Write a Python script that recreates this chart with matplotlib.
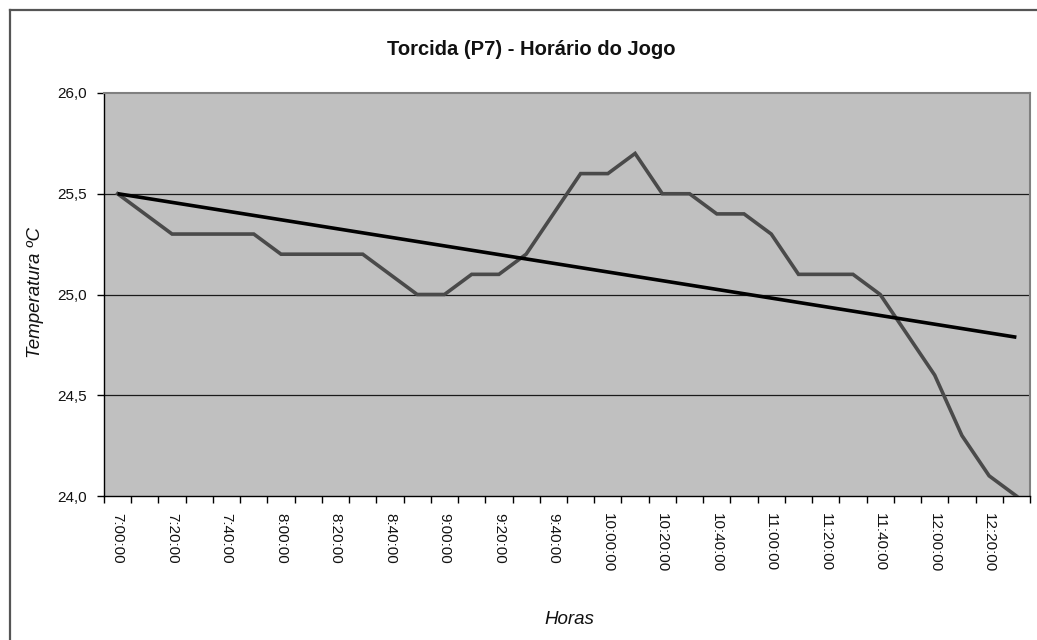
import numpy as np
import matplotlib
matplotlib.use("Agg")
import matplotlib.pyplot as plt
from matplotlib.lines import Line2D

plt.rcParams['font.family'] = ['Liberation Sans', 'DejaVu Sans']

# --- data ---
times = ["7:00:00", "7:10:00", "7:20:00", "7:30:00", "7:40:00", "7:50:00",
         "8:00:00", "8:10:00", "8:20:00", "8:30:00", "8:40:00", "8:50:00",
         "9:00:00", "9:10:00", "9:20:00", "9:30:00", "9:40:00", "9:50:00",
         "10:00:00", "10:10:00", "10:20:00", "10:30:00", "10:40:00", "10:50:00",
         "11:00:00", "11:10:00", "11:20:00", "11:30:00", "11:40:00", "11:50:00",
         "12:00:00", "12:10:00", "12:20:00", "12:30:00"]
temperatura = [25.5, 25.4, 25.3, 25.3, 25.3, 25.3,
               25.2, 25.2, 25.2, 25.2, 25.1, 25.0,
               25.0, 25.1, 25.1, 25.2, 25.4, 25.6,
               25.6, 25.7, 25.5, 25.5, 25.4, 25.4,
               25.3, 25.1, 25.1, 25.1, 25.0, 24.8,
               24.6, 24.3, 24.1, 24.0]
y_ticks = [24.0, 24.5, 25.0, 25.5, 26.0]

title = "Torcida (P7) - Horário do Jogo"
xlabel = "Horas"
ylabel = "Temperatura ºC"

# --- figure ---
W, H = 1037, 640
fig = plt.figure(figsize=(W / 100, H / 100), dpi=100)
fig.patch.set_facecolor("white")

# outer chart border (left and top visible)
fig.add_artist(Line2D([10 / W, 10 / W], [0, 1 - 10 / H], transform=fig.transFigure,
                      color="#555555", lw=1.6))
fig.add_artist(Line2D([10 / W, 1.0], [1 - 10 / H, 1 - 10 / H], transform=fig.transFigure,
                      color="#555555", lw=1.6))

left, right, top, bottom = 104, 1030, 93, 496
ax = fig.add_axes([left / W, 1 - bottom / H, (right - left) / W, (bottom - top) / H])
ax.set_facecolor("#C0C0C0")

x = np.arange(len(times))
y = np.array(temperatura)

# gridlines
for v in y_ticks[1:-1]:
    ax.axhline(v, color="#1a1a1a", lw=0.9, zorder=1)

ax.plot(x, y, color="#4a4a4a", lw=2.6, zorder=3, solid_joinstyle="miter")

# linear trendline
coef = np.polyfit(x, y, 1)
ax.plot(x, np.polyval(coef, x), color="black", lw=2.6, zorder=4, solid_capstyle="butt")

ax.set_xlim(-0.5, len(times) - 0.5)
ax.set_ylim(24.0, 26.0)

ax.set_yticks(y_ticks)
ax.set_yticklabels([f"{v:.1f}".replace(".", ",") for v in y_ticks], fontsize=11, color="#111111")
ax.tick_params(axis="y", direction="out", length=5, width=1, pad=7, color="black")

major = x[::2]
ax.set_xticks(major)
ax.set_xticklabels([times[i] for i in major], rotation=270, fontsize=11,
                   color="#111111", va="top", ha="center")
ax.set_xticks(np.arange(-0.5, len(times)), minor=True)
ax.tick_params(axis="x", which="major", length=0, pad=12)
ax.tick_params(axis="x", which="minor", direction="out", length=5, width=1, color="black")

for s in ["left", "bottom"]:
    ax.spines[s].set_color("black")
    ax.spines[s].set_linewidth(1.0)
for s in ["top", "right"]:
    ax.spines[s].set_color("#808080")
    ax.spines[s].set_linewidth(1.5)

fig.text(531 / W, 1 - 55 / H, title, ha="center", va="baseline", fontsize=14.5,
         fontweight="bold", color="#111111")
fig.text(569 / W, 1 - 620 / H, xlabel, ha="center", va="center", fontsize=13.5,
         style="italic", color="#111111")
fig.text(35 / W, 1 - 292 / H, ylabel, ha="center", va="center", fontsize=13.5,
         style="italic", rotation=90, color="#111111")

fig.savefig("out.png", dpi=100, facecolor="white")
